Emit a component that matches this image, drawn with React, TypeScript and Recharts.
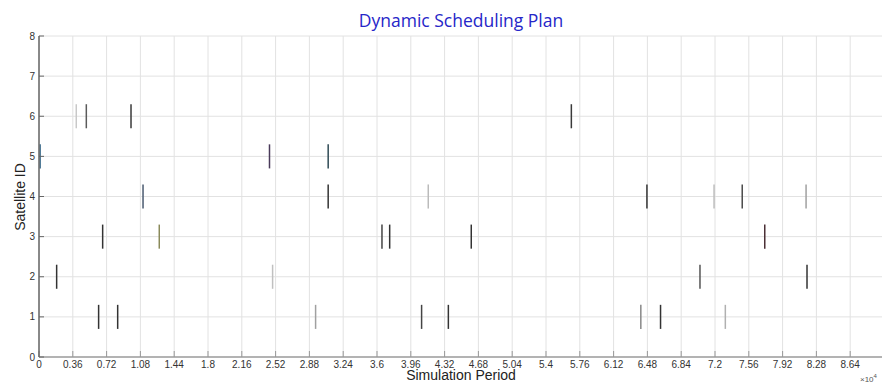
import React from 'react';
import { ComposedChart, XAxis, YAxis, CartesianGrid, ReferenceLine, Scatter } from 'recharts';

const xTicks = [0, 0.36, 0.72, 1.08, 1.44, 1.8, 2.16, 2.52, 2.88, 3.24, 3.6, 3.96, 4.32, 4.68, 5.04, 5.4, 5.76, 6.12, 6.48, 6.84, 7.2, 7.56, 7.92, 8.28, 8.64];
const yTicks = [0, 1, 2, 3, 4, 5, 6, 7, 8];

// task start times (x 10^4) and the satellite that executes each task
const taskTimes = [
  0.397, 0.504, 0.98, 5.67,
  0.012, 2.455, 3.08,
  1.108, 3.08, 4.146, 6.475, 7.19, 7.49, 8.17,
  0.678, 1.281, 3.653, 3.735, 4.604, 7.73,
  0.188, 2.488, 7.04, 8.18,
  0.635, 0.838, 2.946, 4.075, 4.36, 6.41, 6.62, 7.31,
];
const taskSatellites = [
  6, 6, 6, 6,
  5, 5, 5,
  4, 4, 4, 4, 4, 4, 4,
  3, 3, 3, 3, 3, 3,
  2, 2, 2, 2,
  1, 1, 1, 1, 1, 1, 1, 1,
];
const taskColors = [
  '#c8c8c8', '#5a5a5a', '#3a3a3a', '#3a3a3a',
  '#3a6a8a', '#4a3a5a', '#2f4a55',
  '#4a5a70', '#333333', '#bbbbbb', '#333333', '#bdbdbd', '#4a4a4a', '#a0a0a0',
  '#333333', '#8a8a5a', '#444444', '#333333', '#333333', '#4a2f35',
  '#333333', '#c0c0c0', '#555555', '#333333',
  '#333333', '#333333', '#a0a0a0', '#444444', '#333333', '#888888', '#333333', '#b0b0b0',
];
const barHalfHeight = 0.3;

const points = taskTimes.map((t, i) => ({ x: t, y: taskSatellites[i] }));

const tickStyle = { fontSize: 10, fill: '#333', fontFamily: 'Liberation Sans, Arial, sans-serif' };

export default function App() {
  return (
    <div style={{ position: 'fixed', left: 0, top: 0, width: 882, height: 382, overflow: 'hidden', background: '#fff' }}>
      <ComposedChart width={890} height={382} data={points} margin={{ top: 36, right: 6, bottom: 0, left: 0 }}>
        <CartesianGrid stroke="#e2e2e2" />
        <XAxis
          type="number"
          dataKey="x"
          domain={[0, 9]}
          ticks={xTicks}
          interval={0}
          height={25}
          tickSize={-6}
          tickMargin={10}
          tickFormatter={(v: number) => String(v)}
          tick={tickStyle}
          axisLine={{ stroke: '#777', strokeWidth: 1.2 }}
          tickLine={{ stroke: '#999' }}
          allowDataOverflow
        />
        <YAxis
          type="number"
          dataKey="y"
          domain={[0, 8]}
          ticks={yTicks}
          interval={0}
          width={39}
          tickSize={-5}
          tickMargin={9}
          tick={tickStyle}
          axisLine={{ stroke: '#666', strokeWidth: 1.5 }}
          tickLine={{ stroke: '#666' }}
          allowDataOverflow
        />
        <Scatter data={points} dataKey="y" isAnimationActive={false} shape={() => <g />} />
        {points.map((p, i) => (
          <ReferenceLine
            key={i}
            segment={[{ x: p.x, y: p.y - barHalfHeight }, { x: p.x, y: p.y + barHalfHeight }]}
            stroke={taskColors[i]}
            strokeWidth={1.5}
            ifOverflow="visible"
          />
        ))}
      </ComposedChart>
      <div style={{ position: 'absolute', left: 0, width: 922, top: 9, textAlign: 'center', fontFamily: 'Open Sans, sans-serif', fontSize: 17.5, color: '#2626c8', lineHeight: '22px' }}>
        Dynamic Scheduling Plan
      </div>
      <div style={{ position: 'absolute', left: 0, width: 922, top: 367, textAlign: 'center', fontFamily: 'Liberation Sans, Arial, sans-serif', fontSize: 14, color: '#222', lineHeight: '16px' }}>
        Simulation Period
      </div>
      <div style={{ position: 'absolute', left: 20 - 60, top: 197 - 8, width: 120, textAlign: 'center', transform: 'rotate(-90deg)', fontFamily: 'Liberation Sans, Arial, sans-serif', fontSize: 14, color: '#222', lineHeight: '16px' }}>
        Satellite ID
      </div>
      <div style={{ position: 'absolute', left: 860, top: 371, fontFamily: 'Liberation Sans, Arial, sans-serif', fontSize: 8, color: '#555', lineHeight: '10px', whiteSpace: 'nowrap' }}>
        ×10<sup style={{ fontSize: 6 }}>4</sup>
      </div>
    </div>
  );
}
